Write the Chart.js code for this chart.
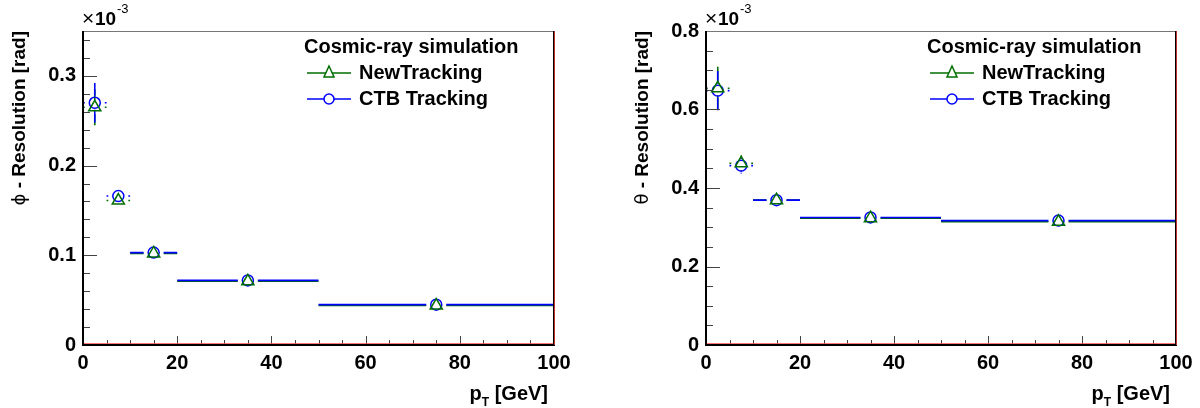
<!DOCTYPE html>
<html>
<head>
<meta charset="utf-8">
<script src="https://cdn.jsdelivr.net/npm/chart.js@4"></script>
<style>
  body { margin: 0; background: #fff; }
  .pad { position: absolute; top: 0; width: 600px; height: 408px; }
</style>
</head>
<body>
<div class="pad" style="left:0"><canvas id="phiChart" width="600" height="408"></canvas></div>
<div class="pad" style="left:600px"><canvas id="thetaChart" width="600" height="408"></canvas></div>
<script>
// pT bins
const binLow = [0, 5, 10, 20, 50];
const binHigh = [5, 10, 20, 50, 100];
const ptCenters = [2.5, 7.5, 15, 35, 75];

// phi resolution (x10^-3 rad)
const phiNew = [0.265, 0.161, 0.102, 0.071, 0.044];
const phiNewErr = [0.020, 0.004, 0.002, 0.002, 0.002];
const phiCtb = [0.270, 0.166, 0.103, 0.072, 0.045];
const phiCtbErr = [0.022, 0.004, 0.002, 0.002, 0.002];

// theta resolution (x10^-3 rad)
const thetaNew = [0.654, 0.463, 0.369, 0.323, 0.314];
const thetaNewErr = [0.055, 0.020, 0.005, 0.005, 0.005];
const thetaCtb = [0.648, 0.457, 0.369, 0.325, 0.317];
const thetaCtbErr = [0.050, 0.020, 0.005, 0.005, 0.005];

const seriesNames = ['NewTracking', 'CTB Tracking'];
const legendTitle = 'Cosmic-ray simulation';

const GREEN = '#006e00';
const BLUE = '#0000ff';
const FONT = '"Liberation Sans", Arial, Helvetica, sans-serif';

function points(ys) {
    return ptCenters.map((x, i) => ({ x: x, y: ys[i] }));
}

// draws ROOT-style error bars, frame, inward ticks, titles and legend
function rootPlugin(cfg) {
    return {
        id: 'rootStyle',
        beforeDatasetsDraw(chart) {
            const ctx = chart.ctx;
            const xs = chart.scales.x, ys = chart.scales.y;
            const gap = 10;
            cfg.errors.forEach((s) => {
                ctx.save();
                ctx.strokeStyle = s.color;
                ctx.lineWidth = 1.6;
                s.values.forEach((v, i) => {
                    const cx = xs.getPixelForValue(ptCenters[i]);
                    const cy = ys.getPixelForValue(v);
                    const xl = xs.getPixelForValue(binLow[i]);
                    const xh = xs.getPixelForValue(binHigh[i]);
                    const yt = ys.getPixelForValue(v + s.errs[i]);
                    const yb = ys.getPixelForValue(v - s.errs[i]);
                    ctx.beginPath();
                    if (cx - gap > xl) { ctx.moveTo(xl, cy); ctx.lineTo(cx - gap, cy); }
                    if (xh > cx + gap) { ctx.moveTo(cx + gap, cy); ctx.lineTo(xh, cy); }
                    if (cy - 7 > yt) { ctx.moveTo(cx, yt); ctx.lineTo(cx, cy - 7); }
                    if (yb > cy + 7) { ctx.moveTo(cx, cy + 7); ctx.lineTo(cx, yb); }
                    ctx.stroke();
                });
                ctx.restore();
            });
        },
        afterDraw(chart) {
            const ctx = chart.ctx;
            const a = chart.chartArea;
            const xs = chart.scales.x, ys = chart.scales.y;
            ctx.save();

            // inward ticks
            ctx.strokeStyle = '#444';
            ctx.lineWidth = 1;
            ctx.beginPath();
            for (let v = xs.min; v <= xs.max + 1e-9; v += cfg.xMinor) {
                const px = Math.round(xs.getPixelForValue(v)) + 0.5;
                const major = Math.abs(v / cfg.xMajor - Math.round(v / cfg.xMajor)) < 1e-6;
                ctx.moveTo(px, a.bottom);
                ctx.lineTo(px, a.bottom - (major ? 9 : 5));
            }
            for (let k = 0; k * cfg.yMinor <= ys.max + 1e-9; k++) {
                const v = k * cfg.yMinor;
                const py = Math.round(ys.getPixelForValue(v)) + 0.5;
                const major = Math.abs(v / cfg.yMajor - Math.round(v / cfg.yMajor)) < 1e-6;
                ctx.moveTo(a.left, py);
                ctx.lineTo(a.left + (major ? 14 : 7), py);
            }
            ctx.stroke();

            // frame
            ctx.strokeStyle = '#777';
            ctx.lineWidth = 1;
            ctx.beginPath();
            ctx.moveTo(a.left, a.top + 0.5);
            ctx.lineTo(a.right, a.top + 0.5);
            ctx.stroke();
            ctx.strokeStyle = '#000';
            ctx.lineWidth = 2;
            ctx.beginPath();
            ctx.moveTo(a.left, a.top);
            ctx.lineTo(a.left, a.bottom);
            ctx.lineTo(a.right, a.bottom);
            ctx.lineTo(a.right, a.top);
            ctx.stroke();
            // red reference line at zero and right edge
            ctx.strokeStyle = 'rgba(255, 70, 70, 0.75)';
            ctx.lineWidth = 1;
            ctx.beginPath();
            ctx.moveTo(a.left + 1, a.bottom - 1.5);
            ctx.lineTo(a.right - 1, a.bottom - 1.5);
            ctx.moveTo(a.right + 0.5, a.top);
            ctx.lineTo(a.right + 0.5, a.bottom);
            ctx.stroke();

            // exponent label
            ctx.fillStyle = '#000';
            ctx.textBaseline = 'alphabetic';
            ctx.textAlign = 'left';
            ctx.font = '21px ' + FONT;
            ctx.fillText('\u00d7', a.left - 1, 25);
            ctx.font = 'bold 19px ' + FONT;
            ctx.fillText('10', a.left + 12, 25);
            ctx.font = '13px ' + FONT;
            ctx.fillText('-3', a.left + 34, 13);

            // x title
            ctx.textAlign = 'right';
            ctx.font = 'bold 20px ' + FONT;
            const rest = ' [GeV]';
            const restW = ctx.measureText(rest).width;
            ctx.fillText(rest, a.right - 6, 400);
            ctx.font = 'bold 12px ' + FONT;
            const tW = ctx.measureText('T').width;
            ctx.fillText('T', a.right - 6 - restW, 406);
            ctx.font = 'bold 20px ' + FONT;
            ctx.fillText('p', a.right - 6 - restW - tW, 400);

            // y title (rotated)
            ctx.save();
            ctx.translate(cfg.yTitleX, a.top);
            ctx.rotate(-Math.PI / 2);
            ctx.textAlign = 'right';
            ctx.textBaseline = 'middle';
            ctx.font = 'bold 19px ' + FONT;
            const tail = ' - Resolution [rad]';
            ctx.fillText(tail, 0, 0);
            const tailW = ctx.measureText(tail).width;
            ctx.font = '18px "DejaVu Sans", ' + FONT;
            ctx.fillText(cfg.symbol, -tailW, 0);
            ctx.restore();

            // legend
            const lx = a.left + cfg.legendDx;
            ctx.textAlign = 'left';
            ctx.textBaseline = 'middle';
            ctx.font = 'bold 20px ' + FONT;
            ctx.fillText(legendTitle, lx, 47);
            const rows = [
                { y: 73, color: GREEN, shape: 'tri' },
                { y: 99, color: BLUE, shape: 'circ' }
            ];
            rows.forEach((r, i) => {
                ctx.strokeStyle = r.color;
                ctx.lineWidth = 1.5;
                ctx.beginPath();
                ctx.moveTo(lx + 3, r.y);
                ctx.lineTo(lx + 47, r.y);
                ctx.stroke();
                ctx.fillStyle = '#fff';
                ctx.beginPath();
                if (r.shape === 'tri') {
                    ctx.moveTo(lx + 25, r.y - 7);
                    ctx.lineTo(lx + 30, r.y + 4);
                    ctx.lineTo(lx + 20, r.y + 4);
                    ctx.closePath();
                } else {
                    ctx.arc(lx + 25, r.y, 5, 0, Math.PI * 2);
                }
                ctx.fill();
                ctx.stroke();
                ctx.fillStyle = '#000';
                ctx.fillText(seriesNames[i], lx + 55, r.y);
            });
            ctx.restore();
        }
    };
}

function makeChart(id, newVals, newErr, ctbVals, ctbErr, yMax, yMajor, yMinor, yWidth, rightPad, symbol, yTitleX, legendDx) {
    const ctx = document.getElementById(id).getContext('2d');
    return new Chart(ctx, {
        type: 'scatter',
        data: {
            datasets: [{
                label: seriesNames[0],
                data: points(newVals),
                pointStyle: 'triangle',
                radius: 7,
                borderColor: GREEN,
                backgroundColor: 'rgba(0,0,0,0)',
                borderWidth: 1.5
            }, {
                label: seriesNames[1],
                data: points(ctbVals),
                pointStyle: 'circle',
                radius: 5.5,
                borderColor: BLUE,
                backgroundColor: 'rgba(0,0,0,0)',
                borderWidth: 1.5
            }]
        },
        options: {
            responsive: false,
            animation: false,
            layout: { padding: { left: 0, right: rightPad, top: 31, bottom: 0 } },
            plugins: { legend: { display: false }, tooltip: { enabled: false } },
            scales: {
                x: {
                    type: 'linear',
                    min: 0, max: 100,
                    grid: { display: false, drawTicks: false },
                    border: { display: false },
                    ticks: { stepSize: 20, padding: 6, color: '#000', font: { family: FONT, size: 20, weight: 'bold' } },
                    afterFit: (s) => { s.height = 63; }
                },
                y: {
                    type: 'linear',
                    min: 0, max: yMax,
                    grid: { display: false, drawTicks: false },
                    border: { display: false },
                    ticks: {
                        stepSize: yMajor, padding: 7, color: '#000',
                        font: { family: FONT, size: 20, weight: 'bold' },
                        callback: (v) => {
                            const k = v / yMajor;
                            return Math.abs(k - Math.round(k)) < 1e-6 ? String(+v.toFixed(2)) : '';
                        }
                    },
                    afterFit: (s) => { s.width = yWidth; }
                }
            }
        },
        plugins: [rootPlugin({
            errors: [
                { color: GREEN, values: newVals, errs: newErr },
                { color: BLUE, values: ctbVals, errs: ctbErr }
            ],
            xMajor: 20, xMinor: 5, yMajor: yMajor, yMinor: yMinor,
            symbol: symbol, yTitleX: yTitleX, legendDx: legendDx
        })]
    });
}

makeChart('phiChart', phiNew, phiNewErr, phiCtb, phiCtbErr, 0.35, 0.1, 0.02, 83, 46, '\u03d5', 20, 221);
makeChart('thetaChart', thetaNew, thetaNewErr, thetaCtb, thetaCtbErr, 0.8, 0.2, 0.05, 106, 24, '\u03b8', 43, 221);
</script>
</body>
</html>
